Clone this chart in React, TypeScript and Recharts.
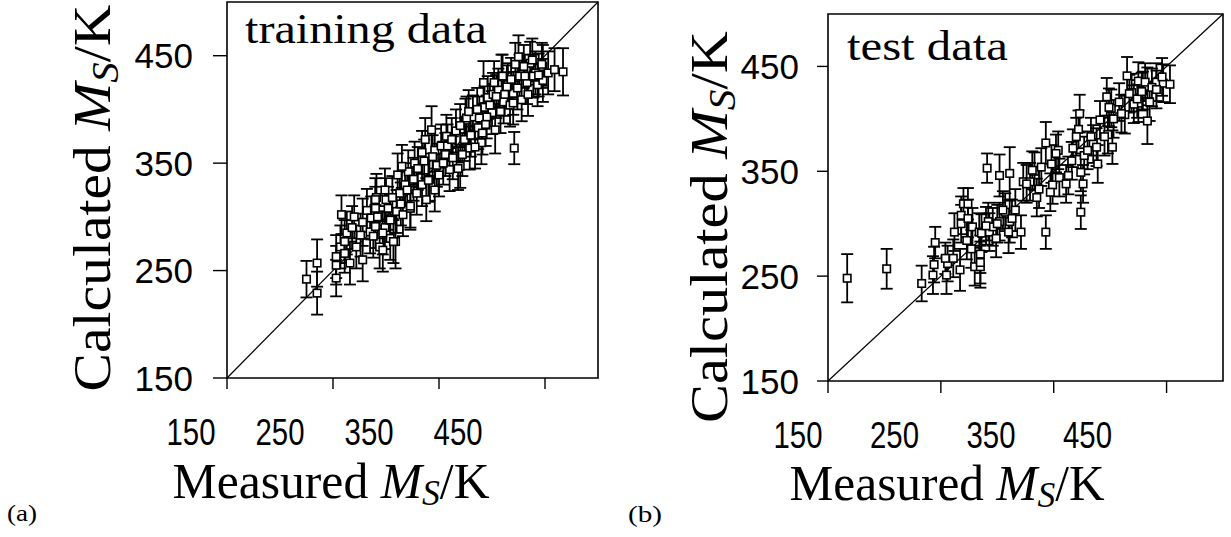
import React from 'react';
import { ScatterChart, Scatter, XAxis, YAxis, ErrorBar, ReferenceLine, ReferenceArea } from 'recharts';

const TICKS = [150, 250, 350, 450];
const DOMAIN: [number, number] = [150, 500];

const trainMeasured = [
  225, 235, 235, 253, 258, 253, 257, 253, 263, 266,
  261, 261, 272, 276, 278, 278, 282, 286, 285, 290,
  291, 290, 294, 299, 297, 300, 304, 304, 309, 310,
  313, 311, 316, 318, 321, 323, 327, 329, 334, 334,
  338, 341, 343, 346, 348, 350, 356, 337, 346, 357,
  363, 370, 375, 379, 382, 387, 390, 391, 393, 396,
  392, 401, 400, 403, 406, 409, 411, 415, 417, 420,
  421, 422, 425, 428, 426, 433, 436, 441, 443, 448,
  448, 453, 459, 467, 360, 368, 376, 384, 395, 404,
  410, 414, 420, 431, 439, 447, 340, 315, 323, 307,
  299, 297, 290, 268, 270, 288, 292, 302, 306, 314,
  320, 326, 330, 336, 344, 352, 358, 362, 366, 370,
  374, 378, 386, 388, 394, 398, 402, 408, 412, 418,
  424, 430, 434, 438, 444, 372, 380, 354,
];
const trainCalculated = [
  242, 257, 229, 243, 302, 263, 272, 255, 285, 257,
  277, 266, 272, 283, 295, 260, 306, 299, 286, 291,
  318, 308, 272, 290, 269, 316, 297, 280, 277, 305,
  322, 339, 302, 330, 342, 308, 350, 322, 360, 330,
  316, 335, 381, 325, 348, 339, 358, 372, 362, 375,
  355, 347, 390, 364, 393, 383, 369, 378, 402, 411,
  425, 414, 397, 381, 418, 431, 407, 423, 404, 415,
  364, 442, 449, 409, 431, 425, 443, 434, 423, 440,
  427, 434, 437, 435, 344, 345, 392, 365, 393, 412,
  431, 421, 406, 431, 431, 442, 334, 347, 310, 277,
  325, 285, 316, 290, 300, 282, 300, 308, 318, 312,
  325, 335, 345, 352, 356, 366, 366, 372, 380, 385,
  372, 398, 400, 392, 386, 404, 425, 398, 414, 428,
  420, 440, 414, 446, 432, 358, 376, 350,
];
const trainError = [
  17, 22, 20, 17, 18, 20, 20, 18, 20, 20,
  20, 18, 20, 20, 22, 20, 20, 20, 20, 20,
  22, 20, 20, 20, 20, 20, 20, 20, 25, 20,
  20, 20, 20, 20, 20, 20, 20, 20, 20, 20,
  20, 20, 22, 20, 20, 20, 20, 20, 20, 20,
  20, 20, 20, 20, 20, 20, 20, 20, 20, 20,
  20, 20, 20, 22, 20, 20, 20, 20, 20, 20,
  15, 20, 20, 20, 20, 20, 20, 20, 20, 20,
  20, 20, 20, 22, 20, 20, 20, 20, 20, 20,
  20, 20, 20, 20, 20, 20, 20, 20, 20, 20,
  20, 20, 20, 20, 20, 20, 20, 20, 20, 20,
  20, 20, 20, 20, 20, 20, 20, 20, 20, 20,
  20, 20, 20, 20, 20, 20, 20, 20, 20, 20,
  20, 20, 20, 20, 20, 20, 20, 20,
];

const testMeasured = [
  167, 202, 233, 245, 244, 243, 255, 256, 254, 261,
  267, 262, 268, 268, 270, 274, 274, 273, 278, 284,
  285, 280, 285, 285, 291, 292, 293, 302, 299, 302,
  307, 311, 311, 316, 310, 321, 323, 329, 333, 335,
  337, 343, 343, 339, 348, 354, 349, 363, 366, 367,
  373, 372, 374, 377, 385, 389, 391, 397, 398, 401,
  402, 408, 413, 415, 419, 425, 429, 433, 433, 441,
  447, 453, 374, 355, 361, 370, 380, 383, 388, 395,
  399, 403, 410, 417, 421, 424, 425, 428, 431, 435,
  437, 441, 446, 376, 331, 326, 347, 352, 296, 300,
  305, 313, 277, 286, 290,
];
const testCalculated = [
  248, 257, 243, 282, 261, 251, 251, 262, 267, 267,
  256, 292, 300, 308, 319, 319, 305, 284, 297, 292,
  271, 259, 259, 263, 353, 302, 292, 346, 286, 302,
  311, 348, 302, 313, 292, 292, 340, 340, 350, 325,
  333, 377, 292, 354, 357, 370, 337, 346, 360, 372,
  405, 390, 349, 365, 376, 357, 399, 421, 385, 410,
  373, 416, 404, 441, 425, 415, 427, 398, 431, 435,
  434, 433, 311, 344, 338, 383, 370, 383, 373, 383,
  411, 400, 405, 424, 414, 419, 436, 426, 435, 416,
  430, 428, 440, 338, 351, 338, 330, 367, 297, 300,
  313, 305, 276, 291, 298,
];
const testError = [
  23, 19, 17, 15, 17, 18, 18, 17, 15, 18,
  20, 18, 18, 18, 15, 15, 18, 18, 18, 18,
  18, 18, 20, 20, 14, 18, 18, 20, 18, 18,
  18, 25, 20, 20, 20, 16, 18, 18, 18, 18,
  18, 20, 16, 18, 18, 18, 18, 18, 18, 18,
  18, 18, 18, 18, 18, 18, 18, 18, 18, 18,
  16, 18, 18, 18, 18, 18, 18, 22, 18, 18,
  18, 18, 16, 18, 18, 18, 18, 18, 18, 18,
  18, 18, 18, 18, 18, 18, 18, 18, 18, 18,
  18, 18, 18, 18, 18, 18, 18, 18, 18, 18,
  18, 18, 18, 18, 18,
];

const build = (xs: number[], ys: number[], es: number[]) =>
  xs.map((x, i) => ({ x, y: ys[i], e: es[i] }));

const trainData = build(trainMeasured, trainCalculated, trainError);
const testData = build(testMeasured, testCalculated, testError);

const SERIF = "'Liberation Serif', 'Times New Roman', serif";
const SANS = "'Liberation Sans', Arial, sans-serif";

const Square = (props: any) => {
  const { cx, cy } = props;
  if (cx == null || cy == null) return <g />;
  return (
    <rect x={cx - 3.75} y={cy - 3.75} width={7.5} height={7.5} fill="#fff" stroke="#000" strokeWidth={1.6} />
  );
};

const makeXTick = (plotLeft: number, shrink: number, shift: number, dy: number) => (props: any) => {
  const { x, y, payload } = props;
  const cx = x - (x - plotLeft) * shrink - shift;
  return (
    <text
      x={cx}
      y={y + dy}
      textAnchor="middle"
      fontFamily={SANS}
      fontSize={36}
      textLength={49}
      lengthAdjust="spacingAndGlyphs"
      fill="#000"
    >
      {payload.value}
    </text>
  );
};

const YTick = (props: any) => {
  const { x, y, payload } = props;
  return (
    <text x={x} y={y + 12.5} textAnchor="end" fontFamily={SANS} fontSize={35} fill="#000">
      {payload.value}
    </text>
  );
};

const XTitle = ({ cx, base, len, tag, tagX, tagBase, tagLen }: any) => (
  <g>
    <text
      x={cx}
      y={base}
      textAnchor="middle"
      fontFamily={SERIF}
      fontSize={50}
      textLength={len}
      lengthAdjust="spacingAndGlyphs"
      fill="#000"
    >
      {'Measured '}
      <tspan fontStyle="italic">M</tspan>
      <tspan fontStyle="italic" fontSize={36} dy={7}>S</tspan>
      <tspan dy={-7}>/K</tspan>
    </text>
    <text
      x={tagX}
      y={tagBase}
      fontFamily={SERIF}
      fontSize={23}
      textLength={tagLen}
      lengthAdjust="spacingAndGlyphs"
      fill="#000"
    >
      {tag}
    </text>
  </g>
);

const YTitle = ({ bx, cy, len }: any) => (
  <text
    transform={`translate(${bx},${cy}) rotate(-90)`}
    textAnchor="middle"
    fontFamily={SERIF}
    fontSize={52}
    textLength={len}
    lengthAdjust="spacingAndGlyphs"
    fill="#000"
  >
    {'Calculated '}
    <tspan fontStyle="italic">M</tspan>
    <tspan fontStyle="italic" fontSize={37} dy={8}>S</tspan>
    <tspan dy={-8}>/K</tspan>
  </text>
);

const Inset = ({ x, base, len, text }: any) => (
  <text
    x={x}
    y={base}
    fontFamily={SERIF}
    fontSize={43}
    textLength={len}
    lengthAdjust="spacingAndGlyphs"
    fill="#000"
  >
    {text}
  </text>
);

const tickLine = { stroke: '#000', strokeWidth: 1.4 };

export default function App() {
  return (
    <div style={{ position: 'absolute', left: 0, top: 0, width: 1231, height: 537, background: '#fff' }}>
      <div style={{ position: 'absolute', left: 0, top: 0 }}>
        <ScatterChart width={620} height={537} margin={{ top: 2, right: 22, bottom: 0, left: 0 }}>
          <XAxis
            type="number"
            dataKey="x"
            domain={DOMAIN}
            ticks={TICKS}
            interval={0}
            allowDataOverflow
            height={159}
            tickSize={11}
            tickMargin={0}
            axisLine={false}
            tickLine={tickLine}
            tick={makeXTick(227, 0.16, 36, 56)}
            label={() => (
              <XTitle cx={331} base={498} len={317} tag="(a)" tagX={7} tagBase={521} tagLen={30} />
            )}
          />
          <YAxis
            type="number"
            dataKey="y"
            domain={DOMAIN}
            ticks={TICKS}
            interval={0}
            allowDataOverflow
            width={227}
            tickSize={14}
            tickMargin={20}
            axisLine={false}
            tickLine={tickLine}
            tick={YTick}
            label={() => <YTitle bx={110} cy={198} len={387} />}
          />
          <ReferenceArea
            x1={150}
            x2={500}
            y1={150}
            y2={500}
            fill="none"
            fillOpacity={0}
            stroke="#000"
            strokeWidth={1.6}
            label={() => <Inset x={245} base={43} len={242} text="training data" />}
          />
          <ReferenceLine segment={[{ x: 150, y: 150 }, { x: 500, y: 500 }]} stroke="#000" strokeWidth={1.2} />
          <Scatter data={trainData} shape={Square} isAnimationActive={false}>
            <ErrorBar dataKey="e" direction="y" width={6} stroke="#000" strokeWidth={1.8} />
          </Scatter>
        </ScatterChart>
      </div>
      <div style={{ position: 'absolute', left: 620, top: 0 }}>
        <ScatterChart width={611} height={537} margin={{ top: 14, right: 8, bottom: 0, left: 0 }}>
          <XAxis
            type="number"
            dataKey="x"
            domain={DOMAIN}
            ticks={TICKS}
            interval={0}
            allowDataOverflow
            height={156}
            tickSize={12}
            tickMargin={0}
            axisLine={false}
            tickLine={tickLine}
            tick={makeXTick(208, 0.145, 30, 55)}
            label={() => (
              <XTitle cx={327} base={500} len={315} tag="(b)" tagX={8} tagBase={522} tagLen={34} />
            )}
          />
          <YAxis
            type="number"
            dataKey="y"
            domain={DOMAIN}
            ticks={TICKS}
            interval={0}
            allowDataOverflow
            width={208}
            tickSize={11}
            tickMargin={18}
            axisLine={false}
            tickLine={tickLine}
            tick={YTick}
            label={() => <YTitle bx={107} cy={227} len={392} />}
          />
          <ReferenceArea
            x1={150}
            x2={500}
            y1={150}
            y2={500}
            fill="none"
            fillOpacity={0}
            stroke="#000"
            strokeWidth={1.6}
            label={() => <Inset x={227} base={60} len={161} text="test data" />}
          />
          <ReferenceLine segment={[{ x: 150, y: 150 }, { x: 500, y: 500 }]} stroke="#000" strokeWidth={1.2} />
          <Scatter data={testData} shape={Square} isAnimationActive={false}>
            <ErrorBar dataKey="e" direction="y" width={6} stroke="#000" strokeWidth={1.8} />
          </Scatter>
        </ScatterChart>
      </div>
    </div>
  );
}
